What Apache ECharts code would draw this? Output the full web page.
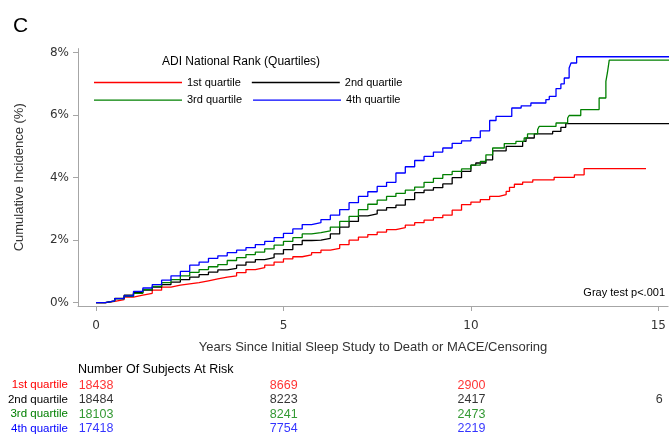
<!DOCTYPE html>
<html>
<head>
<meta charset="utf-8">
<script src="https://cdn.jsdelivr.net/npm/echarts@6/dist/echarts.min.js"></script>
<style>
  html, body { margin: 0; padding: 0; background: #fff; }
  #chart { width: 669px; height: 436px; }
</style>
</head>
<body>
<div id="chart"></div>
<script>
// cumulative incidence (%), [years, percent]
const q1 = [[0,0],[0.25,0.04],[0.5,0.1],[0.75,0.18],[1,0.24],[1.25,0.3],[1.5,0.4],[1.75,0.5],[2,0.56],[2.25,0.6],
  [2.5,0.64],[2.75,0.7],[3,0.76],[3.25,0.82],[3.5,0.86],[3.75,0.96],[4,1.06],[4.25,1.12],[4.5,1.2],[4.75,1.3],
  [5,1.4],[5.25,1.47],[5.5,1.53],[5.75,1.6],[6,1.68],[6.25,1.74],[6.5,1.86],[6.75,2],[7,2.1],[7.25,2.18],
  [7.5,2.26],[7.75,2.34],[8,2.4],[8.25,2.48],[8.5,2.56],[8.75,2.64],[9,2.72],[9.25,2.8],[9.5,2.96],[9.75,3.14],
  [10,3.22],[10.25,3.3],[10.5,3.4],[10.75,3.46],[10.94,3.56],[11.03,3.69],[11.16,3.79],[11.38,3.86],[11.65,3.93],
  [12.22,4.01],[12.76,4.09],[13.02,4.29],[14.67,4.29]]
const q2 = [[0,0],[0.25,0.06],[0.5,0.14],[0.75,0.24],[1,0.32],[1.25,0.4],[1.5,0.5],[1.75,0.58],[2,0.66],[2.25,0.74],
  [2.5,0.82],[2.75,0.9],[3,0.98],[3.25,1.05],[3.5,1.1],[3.75,1.2],[4,1.3],[4.25,1.38],[4.5,1.44],[4.75,1.56],
  [5,1.7],[5.25,1.86],[5.5,1.99],[5.75,2],[6,2.06],[6.25,2.2],[6.5,2.42],[6.75,2.6],[7,2.78],[7.25,2.84],
  [7.5,2.96],[7.75,3.04],[8,3.12],[8.25,3.3],[8.5,3.52],[8.75,3.6],[9,3.68],[9.25,3.8],[9.5,4],[9.75,4.2],
  [10,4.4],[10.13,4.47],[10.4,4.57],[10.58,4.86],[10.94,5],[11.38,5.16],[11.47,5.27],[11.69,5.4],[12.18,5.48],
  [12.4,5.61],[12.53,5.73],[15.3,5.73]]
const q3 = [[0,0],[0.25,0.05],[0.5,0.12],[0.75,0.2],[1,0.3],[1.25,0.42],[1.5,0.52],[1.75,0.64],[2,0.74],[2.25,0.86],
  [2.5,0.97],[2.75,1.06],[3,1.15],[3.25,1.22],[3.5,1.35],[3.75,1.44],[4,1.54],[4.25,1.62],[4.5,1.72],[4.75,1.84],
  [5,1.96],[5.25,2.08],[5.5,2.2],[5.75,2.24],[6,2.3],[6.25,2.42],[6.5,2.6],[6.75,2.76],[7,2.98],[7.25,3.15],
  [7.5,3.28],[7.75,3.4],[8,3.5],[8.25,3.6],[8.5,3.7],[8.75,3.85],[9,3.98],[9.25,4.1],[9.5,4.2],[9.75,4.28],
  [10,4.4],[10.25,4.52],[10.4,4.73],[10.58,4.95],[10.89,5.09],[11.2,5.16],[11.42,5.27],[11.51,5.4],[11.78,5.54],
  [11.82,5.64],[12.27,5.75],[12.58,5.91],[12.62,5.99],[12.93,6.18],[13.42,6.55],[13.6,7.08],[13.64,7.35],
  [13.69,7.76],[15.3,7.76]]
const q4 = [[0,0],[0.25,0.06],[0.5,0.13],[0.75,0.22],[1,0.36],[1.25,0.47],[1.5,0.58],[1.75,0.72],[2,0.86],[2.25,1],
  [2.5,1.2],[2.75,1.3],[3,1.42],[3.25,1.5],[3.5,1.6],[3.75,1.68],[4,1.76],[4.25,1.86],[4.5,1.96],[4.75,2.08],
  [5,2.22],[5.25,2.36],[5.5,2.5],[5.75,2.56],[6,2.66],[6.25,2.8],[6.5,2.98],[6.75,3.2],[7,3.4],[7.25,3.55],
  [7.5,3.72],[7.75,3.85],[8,4.15],[8.25,4.35],[8.5,4.55],[8.75,4.68],[9,4.82],[9.25,4.95],[9.5,5.1],[9.75,5.18],
  [10,5.28],[10.25,5.5],[10.5,5.83],[10.67,5.96],[11.09,6.23],[11.34,6.3],[11.6,6.39],[12,6.5],[12.09,6.6],
  [12.27,6.85],[12.4,7],[12.49,7.19],[12.62,7.51],[12.67,7.67],[12.82,7.87],[15.3,7.87]]

const groupNames = ['1st quartile', '2nd quartile', '3rd quartile', '4th quartile']
const groupColors = ['#ff0000', '#000000', '#008000', '#0000ff']
const xTicks = [0, 5, 10, 15]
const yTicks = [0, 2, 4, 6, 8]

// number of subjects at risk at xTicks
const risk1 = [18438, 8669, 2900, null]
const risk2 = [18484, 8223, 2417, 6]
const risk3 = [18103, 8241, 2473, null]
const risk4 = [17418, 7754, 2219, null]

const curves = [q1, q2, q3, q4]
const risks = [risk1, risk2, risk3, risk4]

const sans = 'Liberation Sans, Arial, sans-serif'
const xMin = -0.48
const xMax = 15.26

let chart = echarts.init(document.getElementById('chart'))

let series = []
curves.forEach(function (c, i) {
  series.push({
    name: groupNames[i],
    type: 'line',
    step: 'end',
    symbol: 'none',
    xAxisIndex: 0,
    yAxisIndex: 0,
    color: groupColors[i],
    lineStyle: { width: 1.3 },
    data: c
  })
})
risks.forEach(function (r, i) {
  let pts = []
  r.forEach(function (n, j) {
    if (n !== null) pts.push([xTicks[j], groupNames[i], n])
  })
  series.push({
    name: 'risk ' + groupNames[i],
    type: 'scatter',
    xAxisIndex: 1,
    yAxisIndex: 1,
    symbolSize: 2,
    itemStyle: { color: 'rgba(255,255,255,0)' },
    label: {
      show: true,
      position: 'inside',
      color: groupColors[i],
      fontFamily: sans,
      fontSize: 12.5,
      formatter: function (p) { return p.value[2] }
    },
    data: pts
  })
})

const legendBase = {
  left: 89,
  icon: 'rect',
  itemWidth: 88,
  itemHeight: 1.4,
  itemGap: 11,
  selectedMode: false,
  textStyle: { fontFamily: sans, fontSize: 11, color: '#000', width: 55 }
}

chart.setOption({
  animation: false,
  title: [
    { text: 'C', left: 8, top: 11, textStyle: { fontFamily: sans, fontSize: 21, fontWeight: 'normal', color: '#000' } },
    { text: 'ADI National Rank (Quartiles)', left: 162, top: 56, textStyle: { fontFamily: sans, fontSize: 12, fontWeight: 'normal', color: '#000' }, padding: 0 },
    { text: 'Gray test p<.001', right: 4, top: 287, textStyle: { fontFamily: sans, fontSize: 11, fontWeight: 'normal', color: '#000' }, padding: 0 },
    { text: 'Number Of Subjects At Risk', left: 78, top: 363, textStyle: { fontFamily: sans, fontSize: 12.5, fontWeight: 'normal', color: '#000' }, padding: 0 }
  ],
  legend: [
    Object.assign({ top: 72, data: ['1st quartile', '2nd quartile'] }, legendBase),
    Object.assign({ top: 89.6, data: ['3rd quartile', '4th quartile'] }, legendBase)
  ],
  grid: [
    { left: 78, right: 0, top: 48.6, bottom: 130 },
    { left: 78, right: 0, top: 378, height: 60 }
  ],
  xAxis: [
    {
      type: 'value', gridIndex: 0, min: xMin, max: xMax,
      name: 'Years Since Initial Sleep Study to Death or MACE/Censoring',
      nameLocation: 'middle', nameGap: 35,
      nameTextStyle: { fontFamily: sans, fontSize: 13, color: '#333' },
      axisLine: { show: true, onZero: false, lineStyle: { color: '#a6a6a6', width: 1 } },
      axisTick: { show: true, customValues: xTicks, length: 5, lineStyle: { color: '#a6a6a6' } },
      axisLabel: { customValues: xTicks, margin: 14, fontFamily: 'DejaVu Sans', fontSize: 12, color: '#333' },
      splitLine: { show: false }
    },
    {
      type: 'value', gridIndex: 1, min: xMin, max: xMax, show: false
    }
  ],
  yAxis: [
    {
      type: 'value', gridIndex: 0, min: -0.106, max: 8.13,
      name: 'Cumulative Incidence (%)',
      nameLocation: 'middle', nameGap: 52,
      nameTextStyle: { fontFamily: sans, fontSize: 13, color: '#333' },
      axisLine: { show: true, onZero: false, lineStyle: { color: '#a6a6a6', width: 1 } },
      axisTick: { show: true, customValues: yTicks, length: 5, lineStyle: { color: '#a6a6a6' } },
      axisLabel: { customValues: yTicks, margin: 9, fontFamily: 'DejaVu Sans', fontSize: 12, color: '#333', formatter: '{value}%' },
      splitLine: { show: false }
    },
    {
      type: 'category', gridIndex: 1, inverse: true, data: groupNames,
      axisLine: { show: false }, axisTick: { show: false }, splitLine: { show: false },
      axisLabel: {
        interval: 0, margin: 10, fontFamily: sans, fontSize: 11.5,
        color: function (value, index) { return groupColors[index] }
      }
    }
  ],
  series: series
})
</script>
</body>
</html>
